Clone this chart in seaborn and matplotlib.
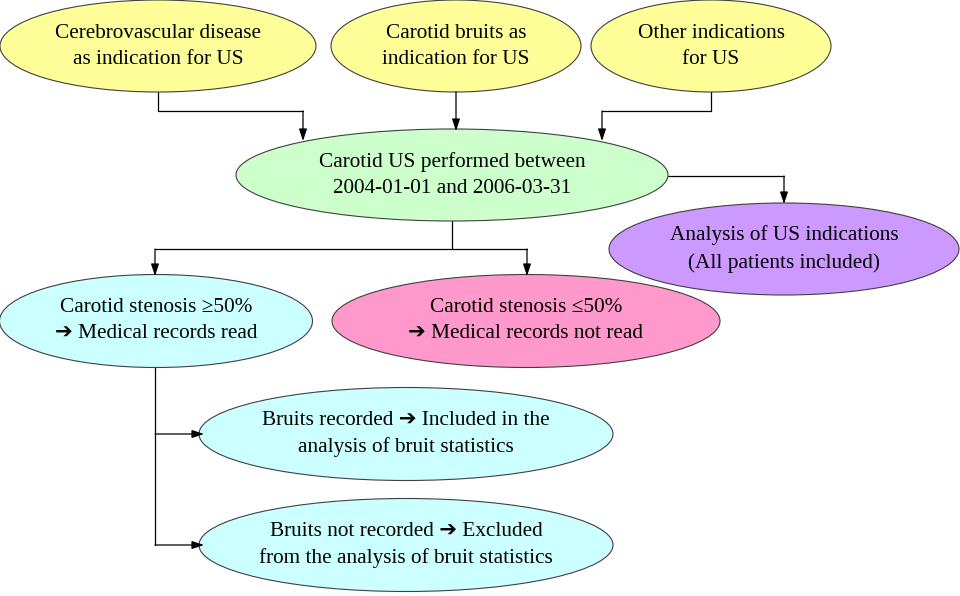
import matplotlib
matplotlib.use("Agg")
import matplotlib.pyplot as plt
import seaborn as sns
from matplotlib.patches import Ellipse

ARROW = "\u2794"

# node texts
labels = [
    "Cerebrovascular disease\nas indication for US",
    "Carotid bruits as\nindication for US",
    "Other indications\nfor US",
    "Carotid US performed between\n2004-01-01 and 2006-03-31",
    "Analysis of US indications\n(All patients included)",
    "Carotid stenosis \u226550%\n" + ARROW + " Medical records read",
    "Carotid stenosis \u226450%\n" + ARROW + " Medical records not read",
    "Bruits recorded " + ARROW + " Included in the\nanalysis of bruit statistics",
    "Bruits not recorded " + ARROW + " Excluded\nfrom the analysis of bruit statistics",
]

# layout in pixel coords (x, y, width, height)
centers = [(158, 46), (456, 46), (711, 46), (452, 175), (784, 249),
           (156, 321), (526, 321), (406, 434), (406, 545)]
sizes = [(316, 92), (250, 92), (240, 92), (432, 92), (350, 92),
         (313, 93), (388, 93), (414, 93), (414, 93)]
fills = ["#FFFF99", "#FFFF99", "#FFFF99", "#CCFFCC", "#CC99FF",
         "#CCFFFF", "#FF99CC", "#CCFFFF", "#CCFFFF"]

# connectors: polyline points, arrow on the last segment
connectors = [
    [(158, 92), (158, 111), (303, 111), (303, 141)],
    [(456, 92), (456, 131)],
    [(711, 92), (711, 111), (602, 111), (602, 141)],
    [(668, 176), (784, 176), (784, 204)],
    [(452, 221), (452, 249), (155, 249), (155, 276)],
    [(452, 249), (527, 249), (527, 276)],
    [(155, 367), (155, 434), (204, 434)],
    [(155, 434), (155, 545), (204, 545)],
]

sns.set_theme(style="white")
plt.rcParams["font.family"] = ["Liberation Serif", "DejaVu Sans"]

fig = plt.figure(figsize=(9.6, 5.96), dpi=100)
ax = fig.add_axes([0, 0, 1, 1])
ax.set_xlim(0, 960)
ax.set_ylim(596, 0)
ax.axis("off")

for (cx, cy), (w, h), fc, txt in zip(centers, sizes, fills, labels):
    ax.add_patch(Ellipse((cx, cy), w, h, facecolor=fc, edgecolor="#404040",
                         linewidth=0.8, zorder=2))
    ax.text(cx, cy, txt, ha="center", va="center", fontsize=15.3,
            linespacing=1.5, color="black", zorder=3)

for pts in connectors:
    xs = [p[0] for p in pts]
    ys = [p[1] for p in pts]
    sns.lineplot(x=xs[:-1], y=ys[:-1], sort=False, estimator=None, ax=ax,
                 color="black", linewidth=0.9, zorder=1)
    ax.annotate("", xy=pts[-1], xytext=pts[-2],
                arrowprops=dict(arrowstyle="-|>,head_length=0.6,head_width=0.2",
                                color="black", lw=0.9, shrinkA=0, shrinkB=0),
                zorder=4)

fig.savefig("out.png", dpi=100)
